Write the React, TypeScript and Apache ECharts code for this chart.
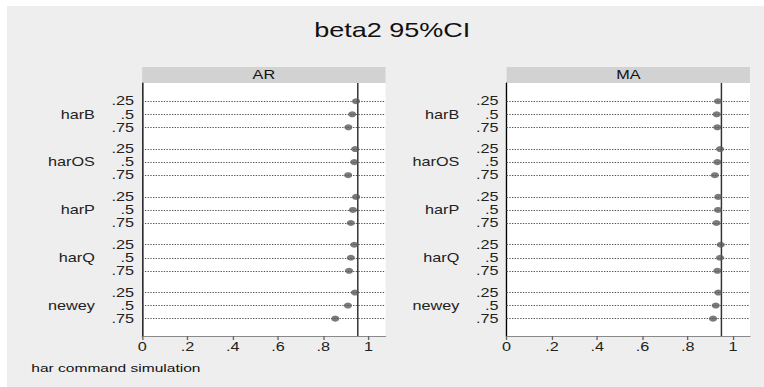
import React, { useEffect, useRef } from "react";
import * as echarts from "echarts";

// ---- data ----
const panels = ["AR", "MA"];
const categories = ["harB", "harOS", "harP", "harQ", "newey"];
const quantiles = [".25", ".5", ".75"];
// coverage estimates, [category][quantile]
const arValues = [
  [0.945, 0.928, 0.911],
  [0.941, 0.937, 0.91],
  [0.945, 0.931, 0.922],
  [0.937, 0.922, 0.914],
  [0.94, 0.909, 0.853],
];
const maValues = [
  [0.934, 0.928, 0.931],
  [0.943, 0.931, 0.92],
  [0.935, 0.934, 0.927],
  [0.946, 0.943, 0.931],
  [0.935, 0.924, 0.912],
];
const xTicks = [0, 0.2, 0.4, 0.6, 0.8, 1];
const refLine = 0.95;
const titleText = "beta2 95%CI";
const noteText = "har command simulation";

// ---- layout ----
const W = 560;
const H = 381;
const SX = 757 / W;
const FONT = "'Liberation Sans', Arial, Helvetica, sans-serif";
const GROUP_STEP = 3.667;
const gridLefts = [100, 369.6];
const gridWidth = 180;
const gridTop = 77;
const gridHeight = 253;
const stripH = 16;

const rowPos = (g: number, k: number) => g * GROUP_STEP + k;

function buildOption() {
  const allRows: number[] = [];
  categories.forEach((_, g) => quantiles.forEach((__, k) => allRows.push(rowPos(g, k))));
  const midRows = categories.map((_, g) => rowPos(g, 1));
  const findIdx = (arr: number[], v: number) => arr.findIndex((p) => Math.abs(p - v) < 1e-6);

  const grids: any[] = [];
  const xAxes: any[] = [];
  const yAxes: any[] = [];
  const series: any[] = [];
  const graphics: any[] = [];

  panels.forEach((name, pi) => {
    const values = pi === 0 ? arValues : maValues;
    grids.push({
      left: gridLefts[pi],
      top: gridTop,
      width: gridWidth,
      height: gridHeight,
      show: true,
      backgroundColor: "#ffffff",
      borderWidth: 0,
      containLabel: false,
    });
    xAxes.push({
      type: "value",
      gridIndex: pi,
      min: 0,
      max: 1.075,
      position: "bottom",
      axisLine: { show: true, onZero: false, lineStyle: { color: "#8a8a8a", width: 1 } },
      axisTick: {
        show: true,
        customValues: xTicks,
        length: 4,
        lineStyle: { color: "#666" },
      },
      axisLabel: {
        customValues: xTicks,
        margin: 5,
        fontSize: 12,
        fontFamily: FONT,
        color: "#222",
        formatter: (v: number) => {
          const s = String(Math.round(v * 10) / 10);
          return s.startsWith("0.") ? s.slice(1) : s;
        },
      },
      splitLine: { show: false },
    });
    // quantile labels axis
    yAxes.push({
      type: "value",
      gridIndex: pi,
      inverse: true,
      min: -1.4,
      max: 18.0,
      position: "left",
      axisLine: { show: true, onZero: false, lineStyle: { color: "#000", width: 1 } },
      axisTick: { show: false },
      splitLine: { show: false },
      axisLabel: {
        customValues: allRows,
        margin: 6,
        fontSize: 12,
        fontFamily: FONT,
        color: "#222",
        formatter: (v: number) => {
          const i = findIdx(allRows, v);
          return i < 0 ? "" : quantiles[i % 3];
        },
      },
    });
    // group labels axis
    yAxes.push({
      type: "value",
      gridIndex: pi,
      inverse: true,
      min: -1.4,
      max: 18.0,
      position: "left",
      axisLine: { show: false, onZero: false },
      axisTick: { show: false },
      splitLine: { show: false },
      axisLabel: {
        customValues: midRows,
        margin: 35,
        fontSize: 12,
        fontFamily: FONT,
        color: "#222",
        formatter: (v: number) => {
          const i = findIdx(midRows, v);
          return i < 0 ? "" : categories[i];
        },
      },
    });

    // dotted row lines and reference line
    series.push({
      type: "scatter",
      xAxisIndex: pi,
      yAxisIndex: pi * 2,
      data: [],
      silent: true,
      z: 1,
      markLine: {
        silent: true,
        symbol: ["none", "none"],
        label: { show: false },
        animation: false,
        data: [
          ...allRows.map((p) => ({
            yAxis: p,
            lineStyle: { type: [1, 1], color: "#555", width: 0.8 },
          })),
          { xAxis: refLine, lineStyle: { type: "solid", color: "#333", width: 1.1 } },
        ],
      },
    });

    const pts: number[][] = [];
    values.forEach((row, g) => row.forEach((v, k) => pts.push([v, rowPos(g, k)])));
    series.push({
      type: "scatter",
      xAxisIndex: pi,
      yAxisIndex: pi * 2,
      data: pts,
      symbol: "circle",
      symbolSize: 6,
      itemStyle: { color: "#5a5a5a" },
      z: 5,
    });

    // strip header
    graphics.push({
      type: "rect",
      shape: { x: gridLefts[pi], y: gridTop - stripH, width: gridWidth, height: stripH },
      style: { fill: "#d2d2d2" },
    });
    graphics.push({
      type: "text",
      x: gridLefts[pi] + gridWidth / 2,
      y: gridTop - stripH / 2,
      style: {
        text: name,
        fontSize: 12,
        fontFamily: FONT,
        fill: "#111",
        textAlign: "center",
        textVerticalAlign: "middle",
      },
    });
  });

  graphics.push({
    type: "text",
    x: 285,
    y: 24,
    style: {
      text: titleText,
      fontSize: 20,
      fontFamily: FONT,
      fill: "#111",
      textAlign: "center",
      textVerticalAlign: "middle",
    },
  });
  graphics.push({
    type: "text",
    x: 18,
    y: 362,
    style: {
      text: noteText,
      fontSize: 11.5,
      fontFamily: FONT,
      fill: "#111",
      textAlign: "left",
      textVerticalAlign: "middle",
    },
  });

  return {
    animation: false,
    backgroundColor: "#eeeeee",
    textStyle: { fontFamily: FONT },
    grid: grids,
    xAxis: xAxes,
    yAxis: yAxes,
    series,
    graphic: graphics,
  };
}

export default function App() {
  const ref = useRef<HTMLDivElement>(null);
  useEffect(() => {
    document.documentElement.style.overflow = "hidden";
    document.body.style.overflow = "hidden";
    if (!ref.current) return;
    const chart = echarts.init(ref.current, undefined, { renderer: "svg" });
    chart.setOption(buildOption());
    return () => chart.dispose();
  }, []);
  return (
    <div
      ref={ref}
      style={{
        position: "absolute",
        left: 7,
        top: 6,
        width: W,
        height: H,
        transform: `scaleX(${SX})`,
        transformOrigin: "0 0",
      }}
    />
  );
}
